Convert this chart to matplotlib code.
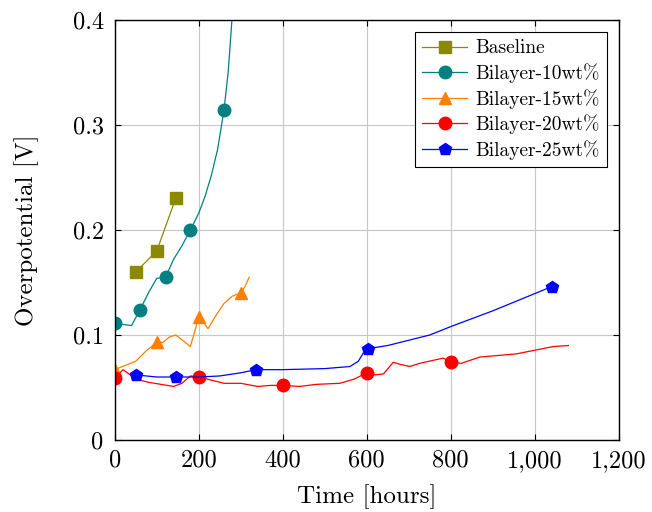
import matplotlib.pyplot as plt
from matplotlib.ticker import FuncFormatter

plt.rcParams['font.family'] = ['cmr10', 'DejaVu Serif']
plt.rcParams['mathtext.fontset'] = 'cm'
plt.rcParams['axes.formatter.use_mathtext'] = True

# curves (time [h], overpotential [V]); marker times listed separately
base_t = [50, 100, 145]
base_v = [0.160, 0.180, 0.230]
base_mk = [50, 100, 145]

b10_t = [0, 20, 40, 60, 80, 100, 121, 140, 160, 180, 200, 215, 230, 245, 260, 270, 279, 290]
b10_v = [0.111, 0.110, 0.109, 0.124, 0.140, 0.154, 0.155, 0.172, 0.185, 0.200, 0.216, 0.232, 0.252, 0.277, 0.314, 0.350, 0.400, 0.470]
b10_mk = [0, 60, 121, 180, 260]

b15_t = [0, 25, 50, 75, 100, 115, 130, 145, 165, 180, 200, 210, 222, 240, 260, 280, 300, 310, 320]
b15_v = [0.067, 0.071, 0.075, 0.085, 0.093, 0.093, 0.098, 0.100, 0.094, 0.089, 0.117, 0.113, 0.106, 0.118, 0.130, 0.137, 0.140, 0.146, 0.155]
b15_mk = [0, 100, 200, 300]

b20_t = [0, 20, 50, 80, 110, 140, 160, 180, 200, 220, 260, 300, 340, 370, 400, 440, 480, 536, 570, 600,
         620, 640, 663, 680, 702, 726, 782, 800, 825, 869, 956, 1044, 1080]
b20_v = [0.059, 0.067, 0.058, 0.055, 0.053, 0.051, 0.054, 0.061, 0.060, 0.058, 0.054, 0.054, 0.051, 0.052, 0.052, 0.051, 0.053, 0.054, 0.058, 0.064,
         0.062, 0.063, 0.074, 0.072, 0.070, 0.073, 0.078, 0.074, 0.073, 0.079, 0.082, 0.089, 0.090]
b20_mk = [0, 200, 400, 600, 800]

b25_t = [50, 100, 147, 200, 250, 300, 337, 400, 500, 560, 580, 595, 604, 650, 700, 750, 800, 900, 1040]
b25_v = [0.062, 0.060, 0.060, 0.060, 0.061, 0.064, 0.067, 0.067, 0.068, 0.070, 0.075, 0.085, 0.087, 0.090, 0.095, 0.100, 0.108, 0.123, 0.146]
b25_mk = [50, 147, 337, 604, 1040]

series = [
    ('Baseline', base_t, base_v, base_mk, '#8a8a00', 's'),
    ('Bilayer-10wt%', b10_t, b10_v, b10_mk, '#008080', 'o'),
    ('Bilayer-15wt%', b15_t, b15_v, b15_mk, '#ff8000', '^'),
    ('Bilayer-20wt%', b20_t, b20_v, b20_mk, '#ff0000', 'o'),
    ('Bilayer-25wt%', b25_t, b25_v, b25_mk, '#0000ff', 'p'),
]

fig = plt.figure(figsize=(6.52, 5.12), dpi=100)
ax = fig.add_axes([0.176, 0.1406, 0.773, 0.8204])

for name, t, v, mk, col, m in series:
    idx = [t.index(x) for x in mk]
    ax.plot(t, v, color=col, lw=0.9, marker=m, markevery=idx,
            ms=9 if m != '^' else 8, mfc=col, mec=col, label=name)

ax.set_xlim(0, 1200)
ax.set_ylim(0, 0.4)
ax.set_xticks([0, 200, 400, 600, 800, 1000, 1200])
ax.set_yticks([0, 0.1, 0.2, 0.3, 0.4])
ax.xaxis.set_major_formatter(FuncFormatter(lambda x, p: f'{int(x):,}'))
ax.yaxis.set_major_formatter(FuncFormatter(lambda y, p: '0' if y == 0 else f'{y:.1f}'))
ax.grid(True, color='#c8c8c8', lw=0.8)
ax.set_axisbelow(True)
ax.tick_params(direction='in', length=4, labelsize=17.5, top=True, right=True)
ax.tick_params(axis='y', pad=8)
ax.tick_params(axis='x', pad=7)
for s in ax.spines.values():
    s.set_linewidth(1.0)

ax.set_xlabel('Time [hours]', fontsize=18, labelpad=9)
ax.set_ylabel('Overpotential [V]', fontsize=18, labelpad=24)

leg = ax.legend(loc='upper right', fontsize=14, fancybox=False, edgecolor='black',
                framealpha=1, borderaxespad=0.6, handlelength=2.3, handletextpad=0.4,
                labelspacing=0.3)
leg.get_frame().set_linewidth(0.8)

fig.savefig('out.png', dpi=100)
